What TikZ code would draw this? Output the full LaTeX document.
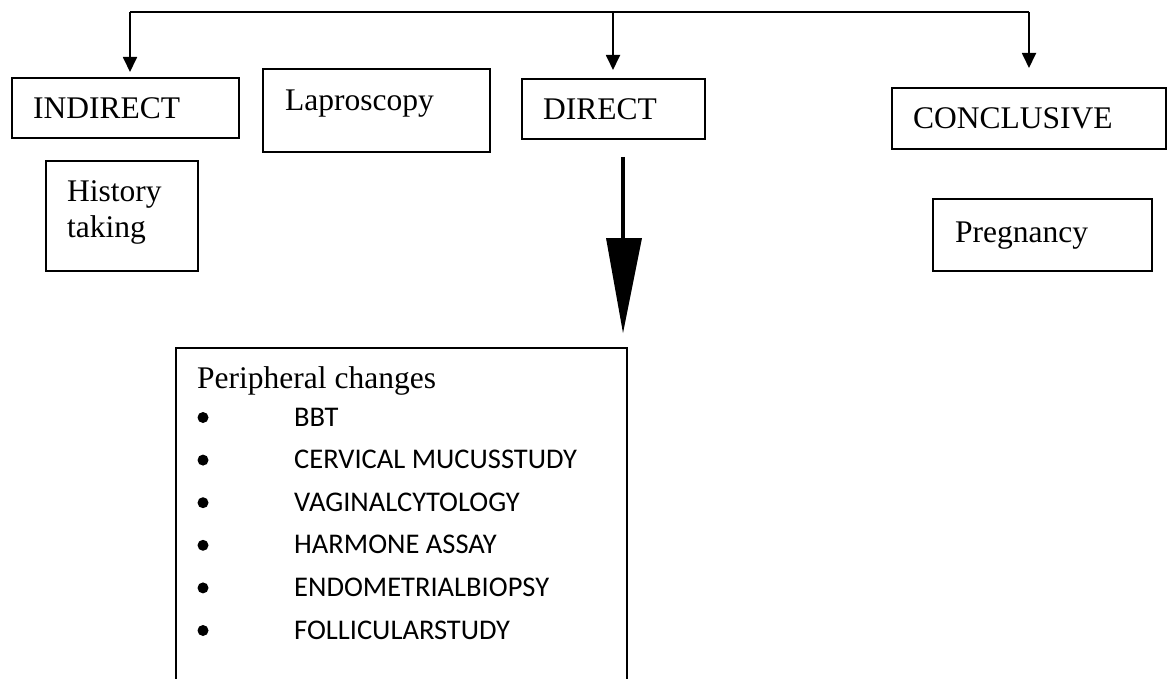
\documentclass[tikz,border=0pt]{standalone}
\usepackage{fontspec}
\setmainfont{Liberation Serif}
\newfontfamily\listfont{Carlito}
\usetikzlibrary{arrows.meta}
\begin{document}
\begin{tikzpicture}[x=1pt,y=-1pt,
  box/.style={draw,line width=1.7pt,inner sep=0pt,outer sep=0pt,rectangle},
  lbl/.style={anchor=base west,inner sep=0pt,font=\fontsize{31.5}{36}\selectfont},
  item/.style={anchor=base west,inner sep=0pt,font=\listfont\fontsize{28.5}{32}\selectfont},
  bul/.style={circle,fill,inner sep=0pt,minimum size=11pt},
  conn/.style={line width=1.8pt},
  arr/.style={conn,-{Triangle[width=14pt,length=15pt]}}]
\useasboundingbox (0,0) rectangle (1167,679);
\clip (0,0) rectangle (1167,679);
% boxes
\node[box,minimum width=227pt,minimum height=60pt] (indirect) at (125.5,108) {};
\node[box,minimum width=227pt,minimum height=83pt] (lapro) at (376.5,110.5) {};
\node[box,minimum width=183pt,minimum height=60pt] (direct) at (613.5,109) {};
\node[box,minimum width=274pt,minimum height=61pt] (conclusive) at (1029,118.5) {};
\node[box,minimum width=152pt,minimum height=110pt] (history) at (122,216) {};
\node[box,minimum width=219pt,minimum height=72pt] (pregnancy) at (1042.5,235) {};
\node[box,minimum width=451pt,minimum height=372pt] (peripheral) at (401.5,534) {};
% texts
\node[lbl] (tIndirect) at (33,119) {INDIRECT};
\node[lbl] (tLapro) at (285,111) {Laproscopy};
\node[lbl] (tDirect) at (543,120) {DIRECT};
\node[lbl] (tConclusive) at (913,129) {CONCLUSIVE};
\node[lbl] (tHistory1) at (67,202) {History};
\node[lbl] (tHistory2) at (67,237) {taking};
\node[lbl] (tPregnancy) at (955,242) {Pregnancy};
\node[lbl] (tPeripheral) at (197,388) {Peripheral changes};
% list
\foreach \t [count=\i from 0] in {BBT,CERVICAL MUCUSSTUDY,VAGINALCYTOLOGY,HARMONE ASSAY,ENDOMETRIALBIOPSY,FOLLICULARSTUDY}{
  \node[bul] (b\i) at (203,417.5+42.6*\i) {};
  \node[item] (i\i) at (294,426+42.6*\i) {\t};
}
% connectors
\coordinate (t1) at (130,12);
\coordinate (t2) at (613,12);
\coordinate (t3) at (1029,12);
\coordinate (a1) at (130,72);
\coordinate (a2) at (613,70);
\coordinate (a3) at (1029,68);
\draw[conn] (t1) -- (t3);
\draw[arr] (t1) -- (a1);
\draw[arr] (t2) -- (a2);
\draw[arr] (t3) -- (a3);
% thick arrow
\coordinate (s) at (623,157);
\coordinate (h) at (623,239);
\coordinate (hl) at (606,238);
\coordinate (hr) at (642,238);
\coordinate (tip) at (623,333);
\draw[line width=4pt] (s) -- (h);
\fill (hl) -- (hr) -- (tip) -- cycle;
\end{tikzpicture}
\end{document}
